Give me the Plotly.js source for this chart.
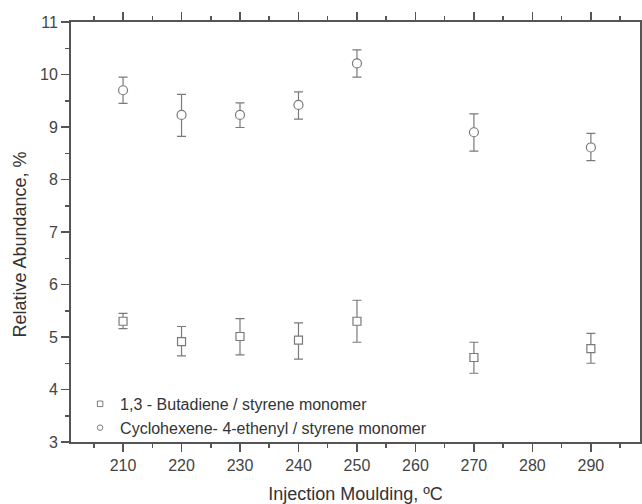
<!DOCTYPE html>
<html>
<head>
<meta charset="utf-8">
<script src="https://cdn.plot.ly/plotly-3.0.1.min.js"></script>
<style>html,body{margin:0;padding:0;background:#fff}#chart{width:642px;height:504px}</style>
</head>
<body>
<div id="chart"></div>
<script>
const temperatures = [210, 220, 230, 240, 250, 270, 290];

const butadieneName = "1,3 - Butadiene / styrene monomer";
const butadiene = [5.30, 4.91, 5.01, 4.94, 5.30, 4.61, 4.78];
const butadieneUpper = [5.45, 5.20, 5.35, 5.27, 5.70, 4.90, 5.07];
const butadieneLower = [5.16, 4.64, 4.66, 4.58, 4.90, 4.31, 4.50];

const cyclohexeneName = "Cyclohexene- 4-ethenyl / styrene monomer";
const cyclohexene = [9.70, 9.23, 9.23, 9.42, 10.21, 8.90, 8.61];
const cyclohexeneUpper = [9.95, 9.62, 9.46, 9.67, 10.47, 9.25, 8.88];
const cyclohexeneLower = [9.45, 8.82, 8.99, 9.15, 9.95, 8.54, 8.36];

const xTickValues = [210, 220, 230, 240, 250, 260, 270, 280, 290];
const yTickValues = [3, 4, 5, 6, 7, 8, 9, 10, 11];

const xTitle = "Injection Moulding, ºC";
const yTitle = "Relative Abundance, %";

const grey = "#7a7a7a";
const diff = (a, b) => a.map((v, i) => +(v - b[i]).toFixed(3));

function series(y, up, lo, symbol, size) {
  return {
    x: temperatures, y: y, type: "scatter", mode: "markers", showlegend: false,
    marker: {symbol: symbol, size: size, color: "#fff", line: {color: grey, width: 1.2}},
    error_y: {type: "data", symmetric: false, array: diff(up, y), arrayminus: diff(y, lo),
      color: grey, thickness: 1.2, width: 4.5}
  };
}
function legendItem(name, symbol, size) {
  return {x: [null], y: [null], type: "scatter", mode: "markers", name: name,
    marker: {symbol: symbol, size: size, color: "#fff", line: {color: grey, width: 1}}};
}

const data = [
  series(butadiene, butadieneUpper, butadieneLower, "square", 8),
  series(cyclohexene, cyclohexeneUpper, cyclohexeneLower, "circle", 9),
  legendItem(butadieneName, "square", 5.5),
  legendItem(cyclohexeneName, "circle", 5.5)
];

const fontFam = "Liberation Sans, Arial, sans-serif";
const axisCommon = {
  showline: true, linecolor: "#555", linewidth: 2, mirror: "ticks",
  ticks: "outside", ticklen: 8, tickwidth: 1.5, tickcolor: "#555",
  showgrid: false, zeroline: false,
  tickfont: {family: fontFam, size: 16, color: "#444"}
};

const layout = {
  width: 642, height: 504,
  margin: {l: 71, r: 2, t: 22, b: 62},
  paper_bgcolor: "#fff", plot_bgcolor: "#fff",
  font: {family: fontFam, color: "#333"},
  xaxis: Object.assign({}, axisCommon, {
    range: [201.1, 298.4], tickvals: xTickValues,
    minor: {dtick: 5, tick0: 205, ticks: "outside", ticklen: 4, tickwidth: 1.5, tickcolor: "#555"},
    title: {text: xTitle, font: {size: 18, color: "#333"}, standoff: 14}
  }),
  yaxis: Object.assign({}, axisCommon, {
    range: [3, 11], tickvals: yTickValues,
    minor: {dtick: 0.5, tick0: 3, ticks: "outside", ticklen: 4, tickwidth: 1.5, tickcolor: "#555"}
  }),
  annotations: [{
    text: yTitle, textangle: -90, xref: "paper", yref: "paper",
    x: -51 / 569, y: 0.470, xanchor: "center", yanchor: "middle", showarrow: false,
    font: {family: fontFam, size: 18, color: "#333"}
  }],
  legend: {x: 0.016, y: -0.007, xanchor: "left", yanchor: "bottom", bgcolor: "rgba(0,0,0,0)",
    font: {size: 16, color: "#333"}, tracegroupgap: 0}
};

Plotly.newPlot("chart", data, layout, {displayModeBar: false, staticPlot: true});
</script>
</body>
</html>
